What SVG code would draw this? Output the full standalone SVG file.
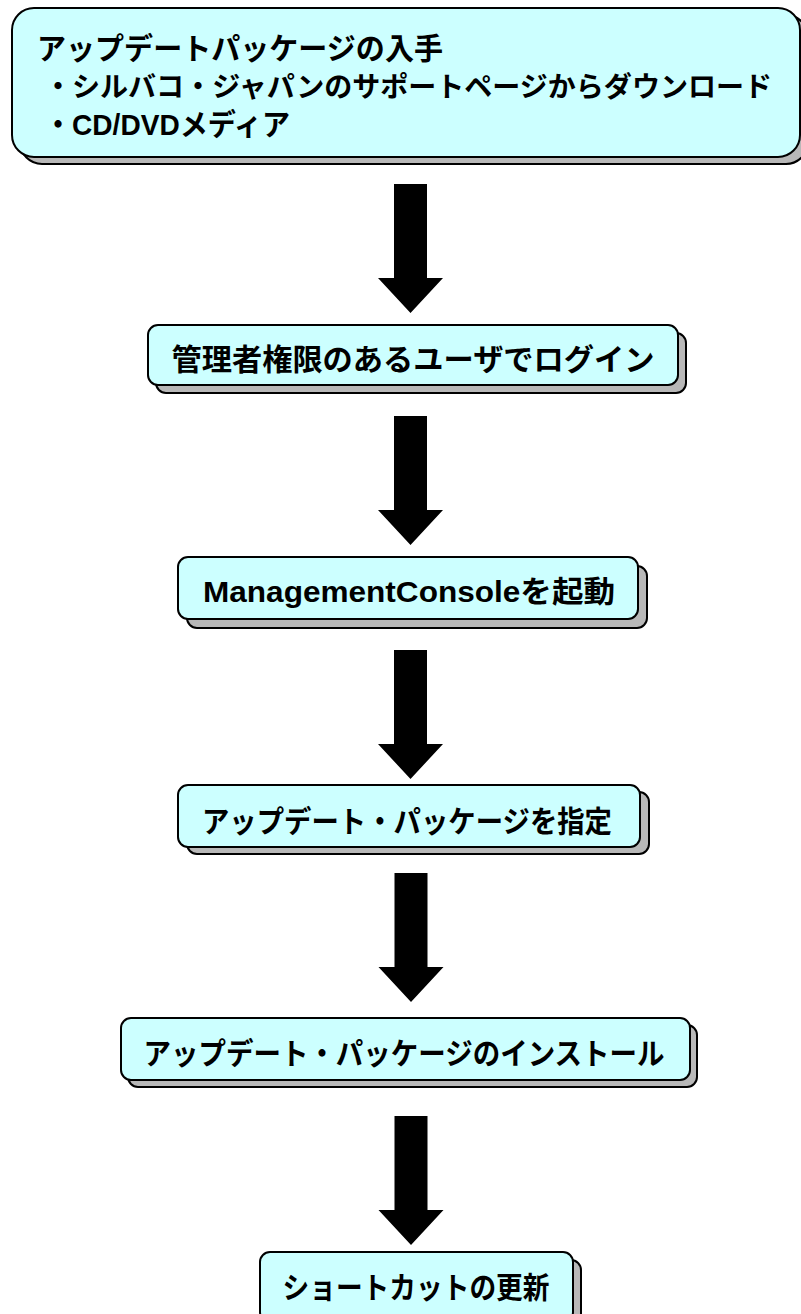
<svg xmlns="http://www.w3.org/2000/svg" width="801" height="1314" viewBox="0 0 801 1314">
<defs>
<style>
.bg{fill:#ffffff}
.box{fill:#ccffff;stroke:#000;stroke-width:2}
.sh{fill:#b8b8b8;stroke:#000;stroke-width:2}
.t{font-family:"Liberation Sans","Noto Sans CJK JP",sans-serif;font-weight:bold;font-size:30px;fill:#000}
.s{font-size:28px}
.c{text-anchor:middle}
.arr{fill:#000}
</style>
<path id="arrow" d="M-16.5,0 H16.5 V94 H32.5 L0,129 L-32.5,94 H-16.5 Z"/>
</defs>
<rect class="bg" x="0" y="0" width="801" height="1314"/>
<g id="connectors" class="arr">
<use href="#arrow" x="410.5" y="184"/>
<use href="#arrow" x="410.5" y="416"/>
<use href="#arrow" x="410.5" y="650"/>
<use href="#arrow" x="411" y="873"/>
<use href="#arrow" x="411" y="1116"/>
</g>
<g id="node1">
<rect class="sh" x="20" y="15" width="788" height="149" rx="22"/>
<rect class="box" x="12" y="8" width="788" height="149" rx="22"/>
<text class="t" x="37" y="59" textLength="406" lengthAdjust="spacingAndGlyphs">アップデートパッケージの入手</text>
<text class="t s" x="44" y="97" textLength="728" lengthAdjust="spacingAndGlyphs">・シルバコ・ジャパンのサポートページからダウンロード</text>
<text class="t" x="44" y="135" textLength="246" lengthAdjust="spacingAndGlyphs">・CD/DVDメディア</text>
</g>
<g id="node2">
<rect class="sh" x="156" y="333" width="530" height="60" rx="10"/>
<rect class="box" x="148" y="325" width="530" height="60" rx="10"/>
<text class="t c" x="413" y="370" textLength="483" lengthAdjust="spacingAndGlyphs">管理者権限のあるユーザでログイン</text>
</g>
<g id="node3">
<rect class="sh" x="187" y="566" width="460" height="62" rx="10"/>
<rect class="box" x="178" y="557" width="460" height="62" rx="10"/>
<text class="t c" x="409" y="602" textLength="412" lengthAdjust="spacingAndGlyphs">ManagementConsoleを起動</text>
</g>
<g id="node4">
<rect class="sh" x="187" y="792" width="462" height="62" rx="10"/>
<rect class="box" x="178" y="785" width="462" height="62" rx="10"/>
<text class="t c" x="407" y="832" textLength="410" lengthAdjust="spacingAndGlyphs">アップデート・パッケージを指定</text>
</g>
<g id="node5">
<rect class="sh" x="128" y="1025" width="569" height="62" rx="10"/>
<rect class="box" x="121" y="1018" width="569" height="62" rx="10"/>
<text class="t c" x="404" y="1064" textLength="521" lengthAdjust="spacingAndGlyphs">アップデート・パッケージのインストール</text>
</g>
<g id="node6">
<rect class="sh" x="268" y="1260" width="313" height="70" rx="10"/>
<rect class="box" x="260" y="1252" width="313" height="70" rx="10"/>
<text class="t c" x="416" y="1298" textLength="267" lengthAdjust="spacingAndGlyphs">ショートカットの更新</text>
</g>
</svg>
